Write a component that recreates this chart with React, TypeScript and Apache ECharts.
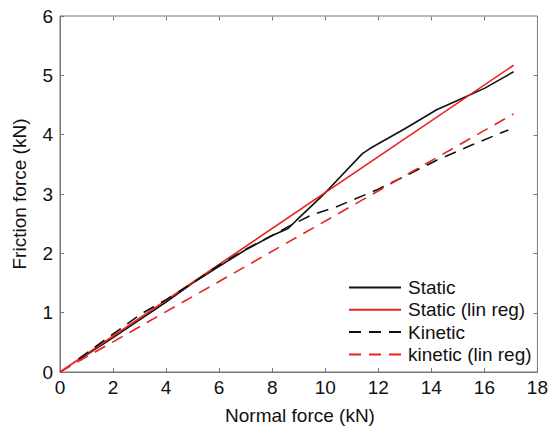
import React, { useEffect, useRef } from "react";
import * as echarts from "echarts";

const staticData: [number, number][] = [
  [0.7, 0.2], [2, 0.58], [4, 1.18], [5, 1.5], [6, 1.78], [7, 2.06], [8, 2.3], [8.6, 2.42],
  [8.9, 2.55], [10, 3.02], [11.4, 3.68], [11.7, 3.77], [13, 4.1], [14.2, 4.42], [15.3, 4.64],
  [16, 4.78], [17.1, 5.06],
];
const staticReg: [number, number][] = [[0, 0], [17.1, 5.17]];
const kineticData: [number, number][] = [
  [0.7, 0.22], [2, 0.64], [3.1, 0.99], [4, 1.22], [5, 1.5], [6, 1.8], [7, 2.07], [8, 2.3],
  [8.6, 2.45], [9.5, 2.65], [10.4, 2.78], [12, 3.08], [13, 3.3], [14.2, 3.57], [15.5, 3.82],
  [16.9, 4.08],
];
const kineticReg: [number, number][] = [[0, 0], [17.1, 4.35]];
const seriesNames = ["Static", "Static (lin reg)", "Kinetic", "kinetic (lin reg)"];
const xTicks = [2, 4, 6, 8, 10, 12, 14, 16];
const yTicks = [1, 2, 3, 4, 5];
const xTitle = "Normal force (kN)";
const yTitle = "Friction force (kN)";

const RED = "#e8231f";
const BLACK = "#111111";
const FRAME = "#777777";
const FONT = "Liberation Sans, Arial, sans-serif";
const FS = 19;

export default function App() {
  const ref = useRef<HTMLDivElement>(null);
  useEffect(() => {
    const chart = echarts.init(ref.current!, undefined, { renderer: "svg" });
    const dash = [12, 8];
    chart.setOption({
      animation: false,
      grid: { left: 60, right: 10, top: 16, bottom: 54, show: true, borderColor: FRAME, borderWidth: 1 },
      xAxis: {
        type: "value", min: 0, max: 18, interval: 2,
        axisLine: { show: true, onZero: false, lineStyle: { color: FRAME, width: 1 } },
        axisTick: { show: true, inside: true, length: 4, lineStyle: { color: FRAME } },
        splitLine: { show: false },
        axisLabel: { fontSize: FS, color: "#111", fontFamily: FONT, margin: 6 },
      },
      yAxis: {
        type: "value", min: 0, max: 6, interval: 1,
        axisLine: { show: true, onZero: false, lineStyle: { color: FRAME, width: 1 } },
        axisTick: { show: true, inside: true, length: 4, lineStyle: { color: FRAME } },
        splitLine: { show: false },
        axisLabel: { fontSize: FS, color: "#111", fontFamily: FONT, margin: 7 },
      },
      legend: {
        orient: "vertical", left: 343, top: 273,
        itemWidth: 52, itemHeight: 14, itemGap: 3.3,
        itemStyle: { opacity: 0 },
        textStyle: { fontSize: FS, color: "#111", fontFamily: FONT, lineHeight: 19, padding: [0, 0, 0, 2] },
        data: seriesNames,
      },
      series: [
        { name: seriesNames[0], type: "line", data: staticData, symbol: "none", lineStyle: { color: BLACK, width: 1.6 }, itemStyle: { color: BLACK } },
        { name: seriesNames[1], type: "line", data: staticReg, symbol: "none", lineStyle: { color: RED, width: 1.6 }, itemStyle: { color: RED } },
        { name: seriesNames[2], type: "line", data: kineticData, symbol: "none", lineStyle: { color: BLACK, width: 1.6, type: dash }, itemStyle: { color: BLACK } },
        { name: seriesNames[3], type: "line", data: kineticReg, symbol: "none", lineStyle: { color: RED, width: 1.6, type: dash }, itemStyle: { color: RED } },
      ],
    });
    const elems: any[] = [
      {
        type: "text", x: 300, y: 415, silent: true,
        style: { text: xTitle, fontSize: FS, fontFamily: FONT, fill: "#111", align: "center", verticalAlign: "middle" },
      },
      {
        type: "text", x: 19, y: 194, rotation: Math.PI / 2, silent: true,
        style: { text: yTitle, fontSize: FS, fontFamily: FONT, fill: "#111", align: "center", verticalAlign: "middle" },
      },
    ];
    try {
      const px = (x: number, y: number) => chart.convertToPixel({ gridIndex: 0 }, [x, y]) as number[];
      const tr = px(18, 6);
      const snap = (v: number) => Math.round(v) + 0.5;
      const xr = snap(tr[0]);
      const yt = snap(tr[1]);
      if (isFinite(xr) && isFinite(yt)) {
        xTicks.forEach((v) => {
          const x = snap(px(v, 6)[0]);
          elems.push({ type: "line", silent: true, shape: { x1: x, y1: yt, x2: x, y2: yt + 4 }, style: { stroke: FRAME, lineWidth: 1 } });
        });
        yTicks.forEach((v) => {
          const y = snap(px(18, v)[1]);
          elems.push({ type: "line", silent: true, shape: { x1: xr, y1: y, x2: xr - 4, y2: y }, style: { stroke: FRAME, lineWidth: 1 } });
        });
      }
    } catch (e) {
      // ignore
    }
    chart.setOption({ graphic: elems });
    return () => chart.dispose();
  }, []);
  return <div ref={ref} style={{ width: 551, height: 426, position: "absolute", left: 0, top: 0, background: "#fff" }} />;
}
